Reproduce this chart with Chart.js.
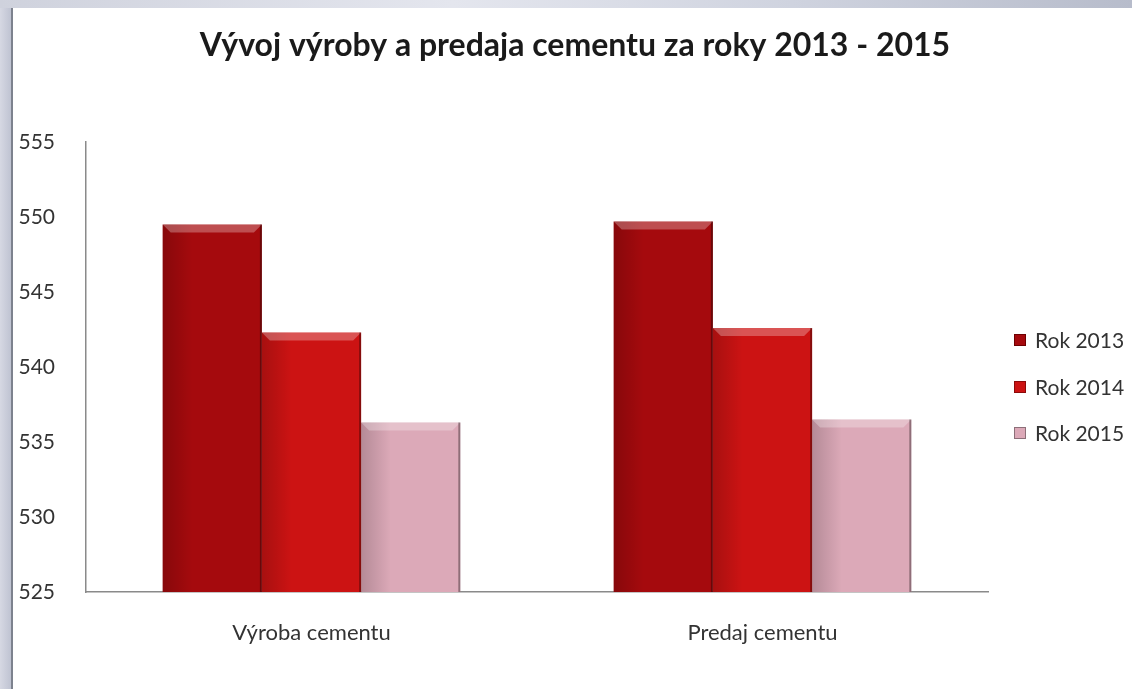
<!DOCTYPE html>
<html>
<head>
<meta charset="utf-8">
<script src="https://cdn.jsdelivr.net/npm/chart.js@4.4.1/dist/chart.umd.min.js"></script>
<style>
  html, body { margin: 0; padding: 0; background: #ffffff; }
  #wrap { position: relative; width: 1132px; height: 689px; overflow: hidden; background: #ffffff; }
  #leftStrip { position: absolute; left: 0; top: 0; width: 11px; height: 689px; background: linear-gradient(90deg, #d6d8e3, #bfc3d2); }
  #leftLine { position: absolute; left: 11px; top: 0; width: 2px; height: 689px; background: #7d828e; }
  #topStrip { position: absolute; left: 0; top: 0; width: 1132px; height: 8px; background: linear-gradient(90deg, #cfd2dd 0%, #e4e6ee 40%, #cfd3df 70%, #b7bccb 100%); }
  canvas { position: absolute; left: 0; top: 0; }
</style>
</head>
<body>
<div id="wrap">
  <div id="leftStrip"></div>
  <div id="leftLine"></div>
  <div id="topStrip"></div>
  <canvas id="c" width="1132" height="689"></canvas>
</div>
<script>
const titleText = 'Vývoj výroby a predaja cementu za roky 2013 - 2015';
const categories = ['Výroba cementu', 'Predaj cementu'];
const seriesLabels = ['Rok 2013', 'Rok 2014', 'Rok 2015'];
const rok2013 = [549.5, 549.7];
const rok2014 = [542.3, 542.6];
const rok2015 = [536.3, 536.5];
const yMin = 525, yMax = 555, yStep = 5;

const fills = ['#a50a0d', '#cc1313', '#dca9b8'];
const edges = ['#6e0000', '#8c0a0a', '#8d6f79'];

const FONT = 'Lato, "Open Sans", sans-serif';

const bevelPlugin = {
  id: 'bevel',
  afterDatasetsDraw(chart) {
    const ctx = chart.ctx;
    const area = chart.chartArea;
    chart.data.datasets.forEach((ds, di) => {
      const meta = chart.getDatasetMeta(di);
      meta.data.forEach(el => {
        const x0 = el.x - el.width / 2, x1 = el.x + el.width / 2;
        const top = el.y, bot = Math.min(el.base, area.bottom);
        const b = 8;
        ctx.save();
        ctx.beginPath();
        ctx.rect(area.left, area.top, area.right - area.left, area.bottom - area.top);
        ctx.clip();
        let g = ctx.createLinearGradient(x0, 0, x0 + el.width * 0.3, 0);
        g.addColorStop(0, 'rgba(0,0,0,0.18)');
        g.addColorStop(1, 'rgba(0,0,0,0)');
        ctx.fillStyle = g;
        ctx.fillRect(x0, top, el.width * 0.3, bot - top);
        ctx.fillStyle = 'rgba(255,255,255,0.28)';
        ctx.beginPath();
        ctx.moveTo(x0, top); ctx.lineTo(x1, top); ctx.lineTo(x1 - b, top + b); ctx.lineTo(x0 + b, top + b); ctx.closePath();
        ctx.fill();
        ctx.fillStyle = 'rgba(0,0,0,0.35)';
        ctx.fillRect(x1 - 2, top, 2, bot - top);
        ctx.restore();
      });
    });
  }
};

const textPlugin = {
  id: 'texts',
  afterDraw(chart) {
    const ctx = chart.ctx;
    ctx.save();
    ctx.fillStyle = '#1a1a1a';
    ctx.font = 'bold 32px ' + FONT;
    ctx.textAlign = 'center';
    ctx.textBaseline = 'middle';
    ctx.fillText(titleText, 575, 46);
    const ys = [340, 387, 433];
    ctx.font = '21px ' + FONT;
    ctx.textAlign = 'left';
    chart.data.datasets.forEach((ds, i) => {
      ctx.fillStyle = fills[i];
      ctx.fillRect(1014, ys[i] - 6, 12, 12);
      ctx.strokeStyle = edges[i];
      ctx.lineWidth = 1;
      ctx.strokeRect(1014.5, ys[i] - 5.5, 11, 11);
      ctx.fillStyle = '#333333';
      ctx.fillText(ds.label, 1035, ys[i] + 1);
    });
    ctx.restore();
  }
};

new Chart(document.getElementById('c'), {
  type: 'bar',
  data: {
    labels: categories,
    datasets: [
      { label: seriesLabels[0], data: rok2013, backgroundColor: fills[0] },
      { label: seriesLabels[1], data: rok2014, backgroundColor: fills[1] },
      { label: seriesLabels[2], data: rok2015, backgroundColor: fills[2] }
    ]
  },
  options: {
    responsive: false,
    animation: false,
    events: [],
    layout: { padding: { left: 0, top: 142, right: 144, bottom: 0 } },
    datasets: { bar: { categoryPercentage: 0.66, barPercentage: 1.0, borderWidth: 0 } },
    plugins: { legend: { display: false }, title: { display: false }, tooltip: { enabled: false } },
    scales: {
      x: {
        grid: { display: false },
        border: { display: true, color: '#8a8a8a', width: 1.5 },
        ticks: { color: '#333333', font: { family: FONT, size: 22 }, padding: 20 },
        afterFit(scale) { scale.height = 97; }
      },
      y: {
        min: yMin, max: yMax,
        grid: { display: false },
        border: { display: true, color: '#8a8a8a', width: 1.5 },
        ticks: { stepSize: yStep, color: '#333333', font: { family: FONT, size: 21 }, padding: 23 },
        afterFit(scale) { scale.width = 86; }
      }
    }
  },
  plugins: [bevelPlugin, textPlugin]
});
</script>
</body>
</html>
